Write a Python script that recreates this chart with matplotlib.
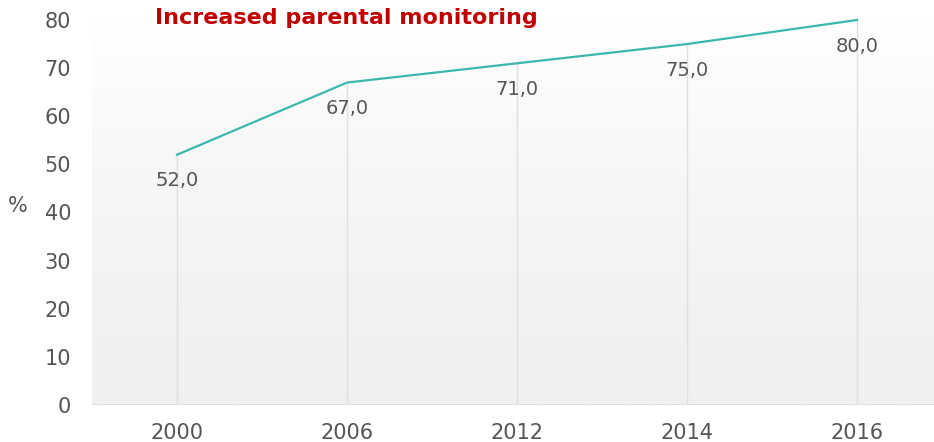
import numpy as np
import matplotlib
matplotlib.use("Agg")
import matplotlib.pyplot as plt

years = ["2000", "2006", "2012", "2014", "2016"]
share = [52.0, 67.0, 71.0, 75.0, 80.0]
yticks = [0, 10, 20, 30, 40, 50, 60, 70, 80]

TEXT = "#555555"
LINE = "#3cb7ad"

plt.rcParams["font.family"] = ["DejaVu Sans"]

fig = plt.figure(figsize=(9.34, 4.42), dpi=100)
ax = fig.add_axes([92 / 934, 37 / 442, 850 / 934, 385 / 442])
x = np.arange(len(years))

ax.set_xlim(-0.5, len(years) - 0.5)
ax.set_ylim(0, 80)

# soft white-to-grey wash behind the plot
grad = np.linspace(1.0, 0.0, 256).reshape(-1, 1) ** 1.5
ax.imshow(grad, extent=(-0.5, len(years) - 0.5, 0, 80), aspect="auto",
          cmap=matplotlib.colors.LinearSegmentedColormap.from_list("bg", ["#f0f0f0", "#ffffff"]),
          vmin=0, vmax=1, origin="upper", zorder=0)

# drop lines from each point to the baseline
ax.vlines(x, 0, share, color="#e0e0e0", lw=1, zorder=1)
ax.axhline(0, color="#dadada", lw=1.2, zorder=1)
ax.plot(x, share, color=LINE, lw=1.6, zorder=3, clip_on=False)

for xi, v in zip(x, share):
    ax.annotate(f"{v:.1f}".replace(".", ","), (xi, v), xytext=(0, -12),
                textcoords="offset points", ha="center", va="top",
                fontsize=14, color=TEXT, zorder=4)

ax.set_xticks(x)
ax.set_xticklabels(years)
ax.set_yticks(yticks)
ax.tick_params(length=0, labelsize=15, colors=TEXT)
ax.tick_params(axis="x", pad=13)
ax.tick_params(axis="y", pad=15)
for s in ax.spines.values():
    s.set_visible(False)

fig.text(8 / 934, 1 - 206 / 442, "%", fontsize=15, color=TEXT, ha="left", va="center")
fig.text(155 / 934, 1 - 18 / 442, "Increased parental monitoring", fontsize=16,
         fontweight="bold", color="#c00000", ha="left", va="center")

fig.savefig("out.png", dpi=100)
